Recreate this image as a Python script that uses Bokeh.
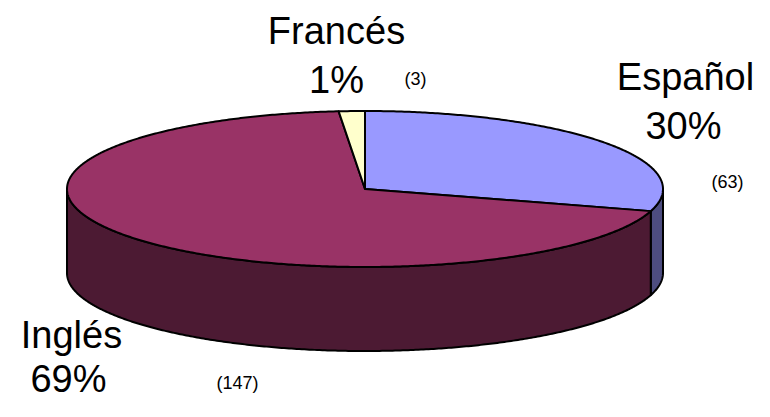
import numpy as np
from bokeh.plotting import figure
from bokeh.models import Range1d, ColumnDataSource
from bokeh.embed import file_html
from bokeh.resources import INLINE
from bokeh.core.properties import value

# ---- data ----
categories = ["Español", "Inglés", "Francés"]
counts = [63, 147, 3]
top_colors = ["#9999FF", "#993366", "#FFFFCC"]
side_colors = ["#4D4D80", "#4C1A33", "#80806A"]

# ---- layout (reference pixel space, y grows downward) ----
W, H = 754, 401
CX, CY, RX, RY, DEPTH = 364.5, 188.5, 298.0, 78.0, 84.0

# label anchor positions (vertical middles): (name_x, name_y, pct_x, pct_y, cnt_x, cnt_y)
label_pos = {
    "Español": (685, 76, 683, 125, 727, 181),
    "Inglés": (71, 334, 68, 378, 237, 382),
    "Francés": (336, 30, 336, 79, 415, 78),
}

total = float(sum(counts))
fracs = [c / total for c in counts]
starts, ends = [], []
a = -90.0
for f in fracs:
    starts.append(a)
    a += f * 360.0
    ends.append(a)


def arc(t0, t1, dy=0.0):
    n = max(3, int(abs(t1 - t0) * 2))
    t = np.radians(np.linspace(t0, t1, n))
    return list(CX + RX * np.cos(t)), list(CY + dy + RY * np.sin(t))


p = figure(width=W, height=H, output_backend="svg", toolbar_location=None,
           x_range=Range1d(0, W), y_range=Range1d(H, 0),
           min_border=0, outline_line_color=None)
p.axis.visible = False
p.xgrid.visible = False
p.ygrid.visible = False
p.background_fill_color = "white"
p.border_fill_color = "white"

# side walls (front half only: 0..180 deg)
sx, sy, sc = [], [], []
for s0, s1, col in zip(starts, ends, side_colors):
    for k in (-1, 0, 1):
        lo, hi = max(s0, 0 + 360 * k), min(s1, 180 + 360 * k)
        if hi > lo:
            tx, ty = arc(lo, hi)
            bx, by = arc(lo, hi, DEPTH)
            sx.append(tx + bx[::-1])
            sy.append(ty + by[::-1])
            sc.append(col)
p.patches(xs=sx, ys=sy, fill_color=sc, line_color="black", line_width=2,
          line_join="round")

# top faces
txs, tys = [], []
for s0, s1 in zip(starts, ends):
    ax, ay = arc(s0, s1)
    txs.append([CX] + ax)
    tys.append([CY] + ay)
p.patches(xs=txs, ys=tys, fill_color=top_colors, line_color="black",
          line_width=2, line_join="round")

# labels
pcts = ["%d%%" % round(f * 100) for f in fracs]
cnts = ["(%d)" % c for c in counts]
src = ColumnDataSource(dict(
    name=categories, pct=pcts, cnt=cnts,
    nx=[label_pos[c][0] for c in categories], ny=[label_pos[c][1] for c in categories],
    px=[label_pos[c][2] for c in categories], py=[label_pos[c][3] for c in categories],
    cx=[label_pos[c][4] for c in categories], cy=[label_pos[c][5] for c in categories],
))
font = value("Liberation Sans")
p.text(x="nx", y="ny", text="name", source=src, text_font=font,
       text_font_size="38px", text_align="center", text_baseline="middle",
       text_color="black")
p.text(x="px", y="py", text="pct", source=src, text_font=font,
       text_font_size="38px", text_align="center", text_baseline="middle",
       text_color="black")
p.text(x="cx", y="cy", text="cnt", source=src, text_font=font,
       text_font_size="18px", text_align="center", text_baseline="middle",
       text_color="black")

open("out.html", "w").write(file_html(p, INLINE))
